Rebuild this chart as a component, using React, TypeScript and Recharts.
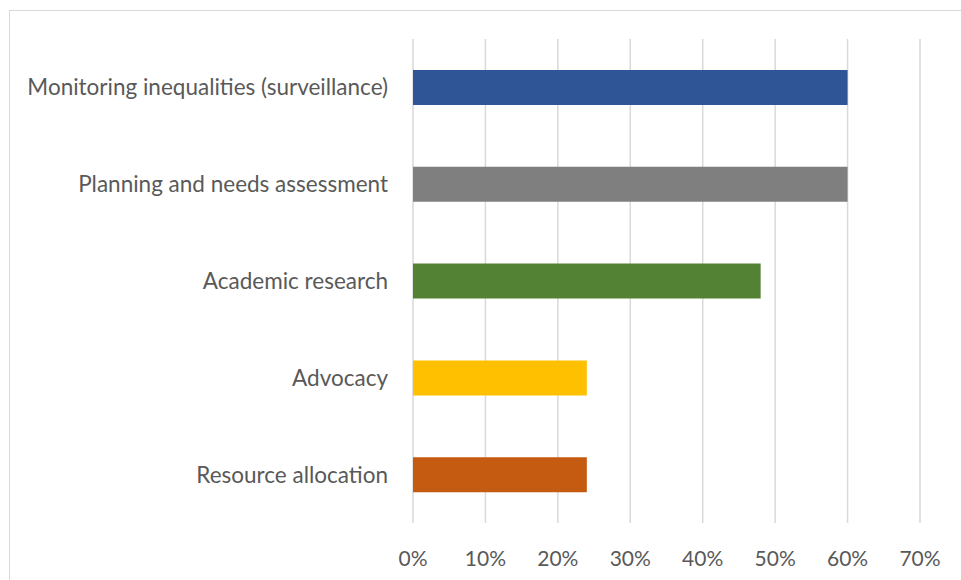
import React from 'react'
import { BarChart, Bar, XAxis, YAxis, CartesianGrid, Cell } from 'recharts'

const categories = [
  'Monitoring inequalities (surveillance)',
  'Planning and needs assessment',
  'Academic research',
  'Advocacy',
  'Resource allocation',
]
const shares = [0.6, 0.6, 0.48, 0.24, 0.24]
const barColors = ['#2F5597', '#7F7F7F', '#548235', '#FFC000', '#C55A11']
const xTicks = [0, 0.1, 0.2, 0.3, 0.4, 0.5, 0.6, 0.7]

const data = categories.map((name, i) => ({ name, value: shares[i] }))

const font = 'Lato, "Open Sans", sans-serif'

export default function App() {
  return (
    <div
      style={{
        position: 'absolute',
        left: 9,
        top: 10,
        width: 951,
        height: 569,
        borderTop: '1px solid #D9D9D9',
        borderLeft: '1px solid #D9D9D9',
        background: '#fff',
      }}
    >
      <BarChart
        width={951}
        height={569}
        data={data}
        layout="vertical"
        margin={{ top: 28, right: 41, bottom: 17, left: 0 }}
      >
        <CartesianGrid horizontal={false} stroke="#D9D9D9" strokeWidth={1.5} />
        <XAxis
          type="number"
          domain={[0, 0.7]}
          ticks={xTicks}
          tickFormatter={(v: number) => `${Math.round(v * 100)}%`}
          axisLine={false}
          tickLine={false}
          tickMargin={22}
          height={40}
          tick={{ fill: '#595959', fontSize: 21, fontFamily: font }}
          interval={0}
        />
        <YAxis
          type="category"
          dataKey="name"
          width={403}
          axisLine={false}
          tickLine={false}
          tickMargin={19}
          tick={{ fill: '#595959', fontSize: 22.5, fontFamily: font }}
          interval={0}
        />
        <Bar dataKey="value" barSize={35} isAnimationActive={false}>
          {data.map((d, i) => (
            <Cell key={d.name} fill={barColors[i]} />
          ))}
        </Bar>
      </BarChart>
    </div>
  )
}
